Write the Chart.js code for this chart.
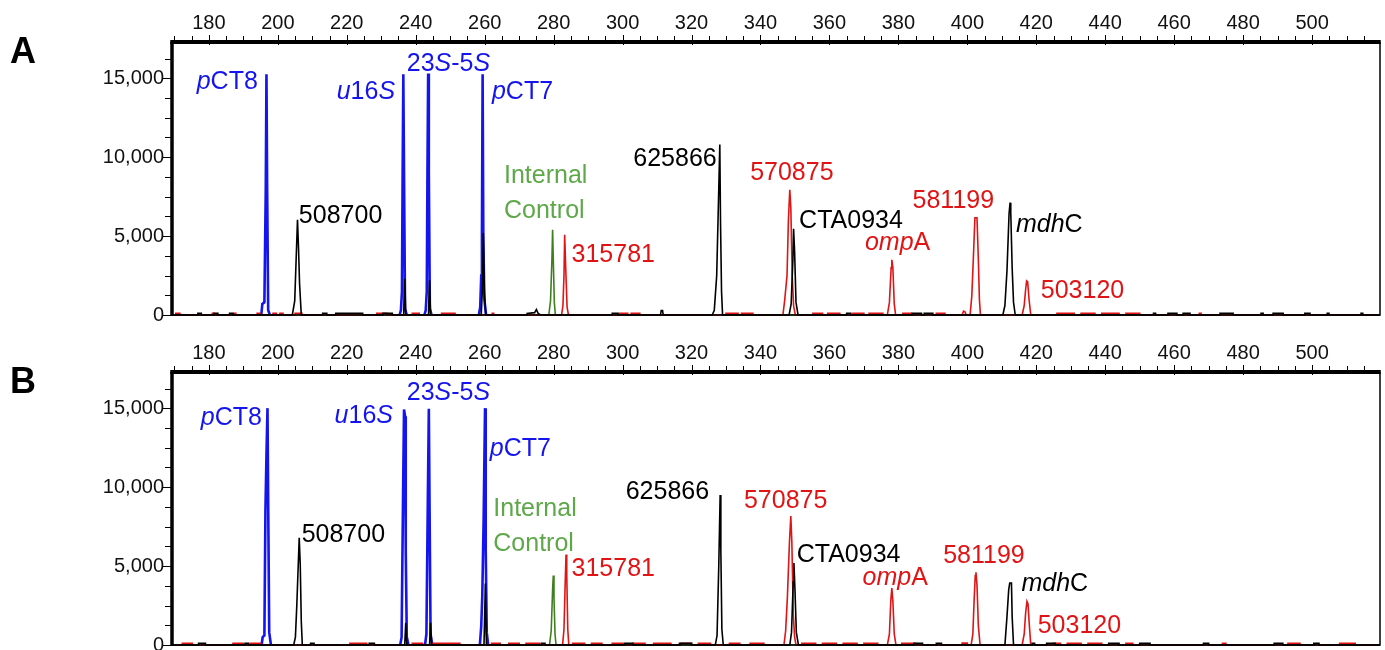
<!DOCTYPE html>
<html>
<head>
<meta charset="utf-8">
<script src="https://cdn.jsdelivr.net/npm/chart.js@4.4.1/dist/chart.umd.min.js"></script>
<style>
  html, body { margin: 0; padding: 0; background: #fff; overflow: hidden; width: 1385px; height: 650px; }
  canvas { position: absolute; left: 0; }
  #panelA { top: 0; }
  #panelB { top: 330px; }
</style>
</head>
<body>
<canvas id="panelA" width="1385" height="335"></canvas>
<canvas id="panelB" width="1385" height="335"></canvas>
<script>
// axis range and tick labels (size in bp, signal in RFU)
const sizeMin = 169.3;
const sizeMax = 519.7;
const sizeLabels = [180, 200, 220, 240, 260, 280, 300, 320, 340, 360, 380, 400, 420, 440, 460, 480, 500];
const rfuMax = 17300;
const rfuLabels = [0, 5000, 10000, 15000];

// panel A traces, [size, rfu]
const blueA = [
  [195.2, 0], [195.5, 700], [196.1, 800], [196.5, 8000], [196.7, 15250], [196.9, 8000], [197.2, 300], [197.7, 0], [197.8, null],
  [235.3, 0], [235.7, 300], [236.0, 1500], [236.2, 9000], [236.4, 15250], [236.6, 9000], [236.9, 400], [237.4, 0], [237.5, null],
  [242.5, 0], [242.9, 300], [243.2, 1500], [243.4, 9000], [243.6, 15300], [243.8, 9000], [244.1, 400], [244.6, 0], [244.7, null],
  [258.3, 0], [258.7, 500], [259.0, 2500], [259.2, 5000], [259.4, 15250], [259.6, 5000], [259.9, 1000], [260.4, 0]
];
const blackA = [
  [169.3, 0], [176.8, 0], [176.8, 100], [177.8, 100], [177.8, 0],
  [181.5, 0], [181.5, 100], [182.6, 100], [182.6, 0],
  [186.0, 0], [186.0, 100], [187.0, 100], [187.0, 0],
  [204.2, 0], [204.9, 900], [205.7, 6035], [206.0, 4250], [206.3, 2000], [206.8, 0],
  [213.0, 0], [213.0, 100], [214.2, 100], [214.2, 0],
  [216.8, 0], [216.8, 100], [224.6, 100], [224.6, 0],
  [230.5, 0], [230.5, 100], [233.2, 100], [233.2, 0],
  [236.5, 0], [236.8, 2300], [237.1, 0],
  [243.7, 0], [244.0, 2200], [244.3, 0],
  [259.0, 0], [259.4, 2000], [259.6, 5200], [259.9, 1500], [260.3, 0],
  [272.3, 0], [272.3, 100], [274.5, 150], [275.0, 350], [275.5, 100], [276.2, 0],
  [297.0, 0], [297.0, 100], [298.7, 100], [298.7, 0],
  [311.0, 0], [311.2, 280], [311.6, 280], [311.8, 0],
  [326.0, 0], [326.6, 300], [327.3, 2500], [327.9, 8000], [328.2, 10800], [328.4, 6000], [328.7, 1500], [329.0, 0],
  [348.3, 0], [348.9, 700], [349.4, 3500], [349.6, 5460], [349.9, 4000], [350.3, 800], [350.9, 0],
  [365.0, 0], [365.0, 100], [366.2, 100], [366.2, 0],
  [384.0, 0], [384.0, 100], [386.7, 100], [386.7, 0],
  [387.5, 0], [387.5, 100], [390.0, 100], [390.0, 0],
  [410.3, 0], [410.9, 600], [411.5, 2800], [412.1, 6400], [412.4, 7120], [412.6, 6500], [413.0, 3000], [413.4, 800], [413.9, 0],
  [454.0, 0], [454.0, 100], [454.6, 100], [454.6, 0],
  [458.2, 0], [458.2, 100], [460.8, 100], [460.8, 0],
  [462.6, 0], [462.6, 100], [464.6, 100], [464.6, 0],
  [473.3, 0], [473.3, 100], [477.1, 100], [477.1, 0],
  [485.2, 0], [485.2, 100], [485.8, 100], [485.8, 0],
  [488.7, 0], [488.7, 100], [491.6, 100], [491.6, 0],
  [497.9, 0], [497.9, 100], [499.4, 100], [499.4, 0],
  [504.4, 0], [504.4, 100], [504.9, 100], [504.9, 0],
  [514.2, 0], [514.2, 100], [514.7, 100], [514.7, 0],
  [519.7, 0]
];
const redA = [
  [169.3, 0], [170.4, 0], [170.4, 100], [171.6, 100], [171.6, 0],
  [181.0, 0], [181.0, 100], [181.5, 100], [181.5, 0],
  [187.3, 0], [187.3, 100], [187.8, 100], [187.8, 0],
  [194.0, 0], [194.0, 100], [194.8, 100], [194.8, 0],
  [198.6, 0], [198.6, 100], [199.6, 100], [199.6, 0], [200.6, 0], [200.6, 100], [201.5, 100], [201.5, 0],
  [205.0, 0], [205.0, 100], [207.0, 100], [207.0, 0],
  [228.7, 0], [228.7, 100], [231.6, 100], [231.6, 0],
  [239.0, 0], [239.0, 100], [241.0, 100], [241.0, 0],
  [247.5, 0], [247.5, 100], [251.4, 100], [251.4, 0],
  [262.2, 0], [262.2, 100], [262.6, 100], [262.6, 0],
  [282.3, 0], [282.7, 600], [283.0, 2500], [283.2, 5080], [283.5, 3000], [283.9, 500], [284.3, 0],
  [299.2, 0], [299.2, 100], [301.5, 100], [301.5, 0], [302.5, 0], [302.5, 100], [305.0, 100], [305.0, 0],
  [330.0, 0], [330.0, 100], [333.5, 100], [333.5, 0], [334.5, 0], [334.5, 100], [337.8, 100], [337.8, 0],
  [346.5, 0], [347.0, 900], [347.7, 2500], [348.1, 6000], [348.5, 7940], [348.8, 6800], [349.2, 2500], [349.6, 600], [350.1, 0],
  [355.2, 0], [355.2, 100], [358.0, 100], [358.0, 0], [359.5, 0], [359.5, 100], [363.0, 100], [363.0, 0],
  [366.8, 0], [366.8, 100], [370.0, 100], [370.0, 0], [371.5, 0], [371.5, 100], [375.5, 100], [375.5, 0],
  [376.8, 0], [377.4, 800], [377.9, 3000], [378.1, 3500], [378.4, 3000], [378.8, 700], [379.2, 0],
  [381.3, 0], [381.3, 100], [383.8, 100], [383.8, 0], [391.0, 0], [391.0, 100], [393.5, 100], [393.5, 0],
  [398.5, 0], [398.9, 250], [399.3, 200], [399.7, 0],
  [400.8, 0], [401.3, 1200], [401.8, 3900], [402.2, 6160], [402.8, 6160], [403.2, 3500], [403.5, 1000], [403.8, 0],
  [415.9, 0], [416.5, 600], [416.9, 1600], [417.2, 2160], [417.5, 2100], [417.9, 1000], [418.4, 0],
  [426.0, 0], [426.0, 100], [431.0, 100], [431.0, 0],
  [433.0, 0], [433.0, 100], [437.0, 100], [437.0, 0],
  [439.0, 0], [439.0, 100], [444.0, 100], [444.0, 0],
  [446.0, 0], [446.0, 100], [450.0, 100], [450.0, 0],
  [467.3, 0], [467.3, 100], [467.8, 100], [467.8, 0],
  [519.7, 0]
];
const greenA = [
  [169.3, 0], [278.6, 0], [279.1, 900], [279.5, 3500], [279.7, 5400], [279.9, 3500], [280.2, 800], [280.5, 0], [519.7, 0]
];

// panel B traces, [size, rfu]
const blueB = [
  [195.3, 0], [195.6, 500], [196.1, 600], [196.4, 8490], [196.7, 12000], [197.0, 15010], [197.2, 9000], [197.5, 800], [198.0, 0], [198.1, null],
  [235.5, 0], [235.9, 500], [236.3, 9000], [236.6, 14930], [236.9, 14500], [237.1, 6000], [237.4, 500], [237.9, 0], [238.0, null],
  [242.7, 0], [243.1, 700], [243.5, 9000], [243.8, 14970], [244.0, 9000], [244.3, 700], [244.8, 0], [244.9, null],
  [258.6, 0], [259.0, 1200], [259.3, 3100], [259.7, 8000], [260.1, 15010], [260.3, 6000], [260.6, 800], [261.0, 0]
];
const blackB = [
  [169.3, 0], [177.0, 0], [177.0, 100], [179.0, 100], [179.0, 0],
  [190.5, 0], [190.5, 100], [191.5, 100], [191.5, 0],
  [204.6, 0], [205.1, 500], [205.5, 2500], [206.2, 6800], [206.5, 5100], [206.8, 1500], [207.1, 0],
  [209.5, 0], [209.5, 100], [210.5, 100], [210.5, 0],
  [226.5, 0], [226.5, 100], [228.0, 100], [228.0, 0],
  [236.8, 0], [237.1, 1400], [237.4, 0],
  [244.0, 0], [244.3, 1400], [244.6, 0],
  [259.8, 0], [260.2, 3900], [260.5, 0],
  [276.5, 0], [276.5, 100], [277.5, 100], [277.5, 0],
  [300.5, 0], [300.5, 100], [303.0, 100], [303.0, 0],
  [316.5, 0], [316.5, 100], [320.0, 100], [320.0, 0],
  [326.9, 0], [327.4, 600], [327.9, 5000], [328.3, 9510], [328.5, 6000], [328.8, 1000], [329.2, 0],
  [348.5, 0], [349.0, 800], [349.5, 4000], [349.7, 5200], [350.0, 3500], [350.4, 800], [351.0, 0],
  [384.5, 0], [384.5, 100], [387.0, 100], [387.0, 0],
  [391.0, 0], [391.0, 100], [392.5, 100], [392.5, 0],
  [410.9, 0], [411.5, 1800], [412.0, 3500], [412.3, 3930], [412.8, 3930], [413.0, 1800], [413.4, 0],
  [418.8, 0], [418.8, 100], [419.5, 100], [419.5, 0],
  [423.0, 0], [423.0, 100], [425.5, 100], [425.5, 0],
  [441.0, 0], [441.0, 100], [444.0, 100], [444.0, 0],
  [450.0, 0], [450.0, 100], [453.0, 100], [453.0, 0],
  [468.5, 0], [468.5, 100], [470.0, 100], [470.0, 0],
  [489.0, 0], [489.0, 100], [491.5, 100], [491.5, 0],
  [500.5, 0], [500.5, 100], [502.0, 100], [502.0, 0],
  [519.7, 0]
];
const redB = [
  [169.3, 0], [172.3, 0], [172.3, 100], [175.2, 100], [175.2, 0],
  [187.0, 0], [187.0, 100], [190.0, 100], [190.0, 0], [192.0, 0], [192.0, 100], [195.0, 100], [195.0, 0],
  [220.9, 0], [220.9, 100], [225.8, 100], [225.8, 0],
  [239.0, 0], [239.0, 100], [242.0, 100], [242.0, 0], [245.0, 0], [245.0, 100], [252.8, 100], [252.8, 0],
  [262.0, 0], [262.0, 100], [264.5, 100], [264.5, 0], [267.0, 0], [267.0, 100], [270.0, 100], [270.0, 0],
  [272.0, 0], [272.0, 100], [276.0, 100], [276.0, 0],
  [282.6, 0], [283.0, 1000], [283.3, 3500], [283.6, 5730], [283.8, 4500], [284.1, 1000], [284.4, 0],
  [285.5, 0], [285.5, 100], [289.0, 100], [289.0, 0], [291.0, 0], [291.0, 100], [294.0, 100], [294.0, 0],
  [297.0, 0], [297.0, 100], [300.0, 100], [300.0, 0], [303.0, 0], [303.0, 100], [306.5, 100], [306.5, 0],
  [309.0, 0], [309.0, 100], [314.0, 100], [314.0, 0], [317.0, 0], [317.0, 100], [320.0, 100], [320.0, 0],
  [322.0, 0], [322.0, 100], [325.5, 100], [325.5, 0],
  [331.0, 0], [331.0, 100], [334.0, 100], [334.0, 0], [337.0, 0], [337.0, 100], [341.0, 100], [341.0, 0],
  [346.8, 0], [347.3, 900], [347.8, 3000], [348.4, 6500], [348.8, 8170], [349.1, 6500], [349.5, 2000], [349.9, 500], [350.3, 0],
  [352.0, 0], [352.0, 100], [356.0, 100], [356.0, 0], [358.0, 0], [358.0, 100], [362.0, 100], [362.0, 0],
  [364.0, 0], [364.0, 100], [368.0, 100], [368.0, 0], [370.0, 0], [370.0, 100], [374.0, 100], [374.0, 0],
  [376.8, 0], [377.4, 700], [377.8, 2800], [378.1, 3610], [378.4, 2800], [378.8, 700], [379.3, 0],
  [381.0, 0], [381.0, 100], [385.0, 100], [385.0, 0],
  [398.5, 0], [398.5, 120], [400.0, 120], [400.0, 0],
  [401.1, 0], [401.6, 700], [402.0, 3000], [402.3, 4400], [402.5, 4610], [402.8, 3800], [403.2, 1200], [403.7, 0],
  [415.9, 0], [416.5, 700], [416.9, 2000], [417.3, 2760], [417.6, 2600], [418.0, 1200], [418.4, 0],
  [425.0, 0], [425.0, 100], [427.0, 100], [427.0, 0], [429.0, 0], [429.0, 100], [433.0, 100], [433.0, 0],
  [435.0, 0], [435.0, 100], [439.0, 100], [439.0, 0],
  [446.0, 0], [446.0, 100], [448.0, 100], [448.0, 0],
  [474.0, 0], [474.0, 100], [475.0, 100], [475.0, 0],
  [493.0, 0], [493.0, 100], [496.5, 100], [496.5, 0],
  [508.0, 0], [508.0, 100], [512.5, 100], [512.5, 0],
  [519.7, 0]
];
const greenB = [
  [169.3, 0], [278.8, 0], [279.3, 900], [279.7, 3500], [279.9, 4400], [280.1, 3000], [280.4, 700], [280.7, 0], [519.7, 0]
];

const BLUE = '#1414ee';
const RED = '#e01414';
const BLACK = '#000000';
const GREEN_LINE = '#3f7f1f';
const GREEN_TEXT = '#5ea84a';
const FONT = "'Liberation Sans', Arial, Helvetica, sans-serif";
const LABEL_FONT = '25px ' + FONT;

// peak annotations: text (*..* = italic), anchor in axis units
const labelsA = [
  { text: '*p*CT8', x: 194.2, y: 14295, align: 'right', color: BLUE },
  { text: '*u*16*S*', x: 234.0, y: 13660, align: 'right', color: BLUE },
  { text: '23*S*-5*S*', x: 237.4, y: 15440, align: 'left', color: BLUE },
  { text: '*p*CT7', x: 262.1, y: 13660, align: 'left', color: BLUE },
  { text: '508700', x: 206.1, y: 5845, align: 'left', color: BLACK },
  { text: 'Internal', x: 265.6, y: 8390, align: 'left', color: GREEN_TEXT },
  { text: 'Control', x: 265.6, y: 6160, align: 'left', color: GREEN_TEXT },
  { text: '315781', x: 285.2, y: 3370, align: 'left', color: RED },
  { text: '625866', x: 327.3, y: 9470, align: 'right', color: BLACK },
  { text: '570875', x: 337.0, y: 8580, align: 'left', color: RED },
  { text: 'CTA0934', x: 351.2, y: 5530, align: 'left', color: BLACK },
  { text: '*omp*A', x: 370.3, y: 4130, align: 'left', color: RED },
  { text: '581199', x: 384.1, y: 6800, align: 'left', color: RED },
  { text: '*mdh*C', x: 414.1, y: 5270, align: 'left', color: BLACK },
  { text: '503120', x: 421.3, y: 1080, align: 'left', color: RED }
];
const labelsB = [
  { text: '*p*CT8', x: 195.4, y: 13950, align: 'right', color: BLUE },
  { text: '*u*16*S*', x: 233.4, y: 14080, align: 'right', color: BLUE },
  { text: '23*S*-5*S*', x: 237.4, y: 15500, align: 'left', color: BLUE },
  { text: '*p*CT7', x: 261.5, y: 11990, align: 'left', color: BLUE },
  { text: '508700', x: 206.9, y: 6520, align: 'left', color: BLACK },
  { text: 'Internal', x: 262.5, y: 8170, align: 'left', color: GREEN_TEXT },
  { text: 'Control', x: 262.5, y: 5940, align: 'left', color: GREEN_TEXT },
  { text: '315781', x: 285.2, y: 4350, align: 'left', color: RED },
  { text: '625866', x: 325.1, y: 9240, align: 'right', color: BLACK },
  { text: '570875', x: 335.2, y: 8710, align: 'left', color: RED },
  { text: 'CTA0934', x: 350.5, y: 5240, align: 'left', color: BLACK },
  { text: '*omp*A', x: 369.6, y: 3820, align: 'left', color: RED },
  { text: '581199', x: 393.0, y: 5200, align: 'left', color: RED },
  { text: '*mdh*C', x: 415.7, y: 3400, align: 'left', color: BLACK },
  { text: '503120', x: 420.4, y: 750, align: 'left', color: RED }
];

Chart.defaults.font.family = FONT;

function trace(data, color, width, order) {
  return {
    data: data,
    borderColor: color,
    borderWidth: width,
    pointRadius: 0,
    tension: 0,
    spanGaps: false,
    clip: false,
    order: order
  };
}

function buildPanel(canvasId, letter, traces, labels) {
  const framePlugin = {
    id: 'frame' + letter,
    afterDraw(chart) {
      const ctx = chart.ctx;
      const a = chart.chartArea;
      const xs = chart.scales.x;
      const ys = chart.scales.y;
      ctx.save();
      ctx.strokeStyle = '#000';

      // ticks on top axis
      ctx.lineWidth = 1;
      ctx.beginPath();
      xs.ticks.forEach(t => {
        const px = Math.round(xs.getPixelForValue(t.value)) + 0.5;
        const major = t.value % 20 === 0;
        ctx.moveTo(px, a.top - (major ? 7 : 6));
        ctx.lineTo(px, a.top + (major ? 3 : 0));
      });
      // ticks on left axis
      ys.ticks.forEach(t => {
        const py = Math.round(ys.getPixelForValue(t.value)) + 0.5;
        const major = t.value % 5000 === 0;
        ctx.moveTo(a.left - (major ? 9 : 7), py);
        ctx.lineTo(a.left, py);
      });
      ctx.stroke();

      // thin right and bottom frame
      ctx.lineWidth = 1.5;
      ctx.beginPath();
      ctx.moveTo(a.right, a.top);
      ctx.lineTo(a.right, a.bottom);
      ctx.lineTo(a.left, a.bottom);
      ctx.stroke();

      // heavy top and left frame
      ctx.lineWidth = 4;
      ctx.beginPath();
      ctx.moveTo(a.left - 1.75, a.top);
      ctx.lineTo(a.right + 0.75, a.top);
      ctx.stroke();
      ctx.lineWidth = 3.5;
      ctx.beginPath();
      ctx.moveTo(a.left, a.top);
      ctx.lineTo(a.left, a.bottom + 1);
      ctx.stroke();

      // panel letter
      ctx.fillStyle = '#000';
      ctx.font = 'bold 36px ' + FONT;
      ctx.textBaseline = 'alphabetic';
      ctx.fillText(letter, 10, 63);
      ctx.restore();
    },
    afterDatasetsDraw(chart) {
      const ctx = chart.ctx;
      const xs = chart.scales.x;
      const ys = chart.scales.y;
      ctx.save();
      ctx.textBaseline = 'alphabetic';
      labels.forEach(item => {
        const parts = item.text.split('*');
        const fonts = parts.map((p, i) => (i % 2 ? 'italic ' : '') + LABEL_FONT);
        let total = 0;
        parts.forEach((p, i) => { ctx.font = fonts[i]; total += ctx.measureText(p).width; });
        let px = xs.getPixelForValue(item.x);
        if (item.align === 'right') px -= total;
        const py = ys.getPixelForValue(item.y);
        ctx.fillStyle = item.color;
        parts.forEach((p, i) => {
          ctx.font = fonts[i];
          ctx.fillText(p, px, py);
          px += ctx.measureText(p).width;
        });
      });
      ctx.restore();
    }
  };

  return new Chart(document.getElementById(canvasId), {
    type: 'line',
    data: {
      datasets: [
        trace(traces.black, BLACK, 1.6, 0),
        trace(traces.red, RED, 1.6, 1),
        trace(traces.green, GREEN_LINE, 1.6, 2),
        trace(traces.blue, BLUE, 2.6, 3)
      ]
    },
    options: {
      responsive: false,
      animation: false,
      events: [],
      layout: { padding: { left: 0, right: 5, top: 0, bottom: 0 } },
      plugins: { legend: { display: false }, tooltip: { enabled: false } },
      scales: {
        x: {
          type: 'linear',
          position: 'top',
          min: sizeMin,
          max: sizeMax,
          afterBuildTicks: scale => {
            const t = [];
            for (let v = 170; v <= 515; v += 5) t.push({ value: v });
            scale.ticks = t;
          },
          afterFit: scale => { scale.height = 42; },
          ticks: {
            autoSkip: false,
            maxRotation: 0,
            padding: 7,
            color: '#111',
            font: { size: 20 },
            callback: v => sizeLabels.includes(v) ? String(v) : ''
          },
          grid: { display: false, drawTicks: false },
          border: { display: false }
        },
        y: {
          type: 'linear',
          min: 0,
          max: rfuMax,
          afterBuildTicks: scale => {
            const t = [];
            for (let v = 0; v <= 16250; v += 1250) t.push({ value: v });
            scale.ticks = t;
          },
          afterFit: scale => { scale.width = 172; },
          ticks: {
            autoSkip: false,
            padding: 8,
            color: '#111',
            font: { size: 20 },
            callback: v => rfuLabels.includes(v) ? v.toLocaleString('en-US') : ''
          },
          grid: { display: false, drawTicks: false },
          border: { display: false }
        }
      }
    },
    plugins: [framePlugin]
  });
}

document.addEventListener('DOMContentLoaded', function() {
  buildPanel('panelA', 'A', { blue: blueA, black: blackA, red: redA, green: greenA }, labelsA);
  buildPanel('panelB', 'B', { blue: blueB, black: blackB, red: redB, green: greenB }, labelsB);
});
</script>
</body>
</html>
